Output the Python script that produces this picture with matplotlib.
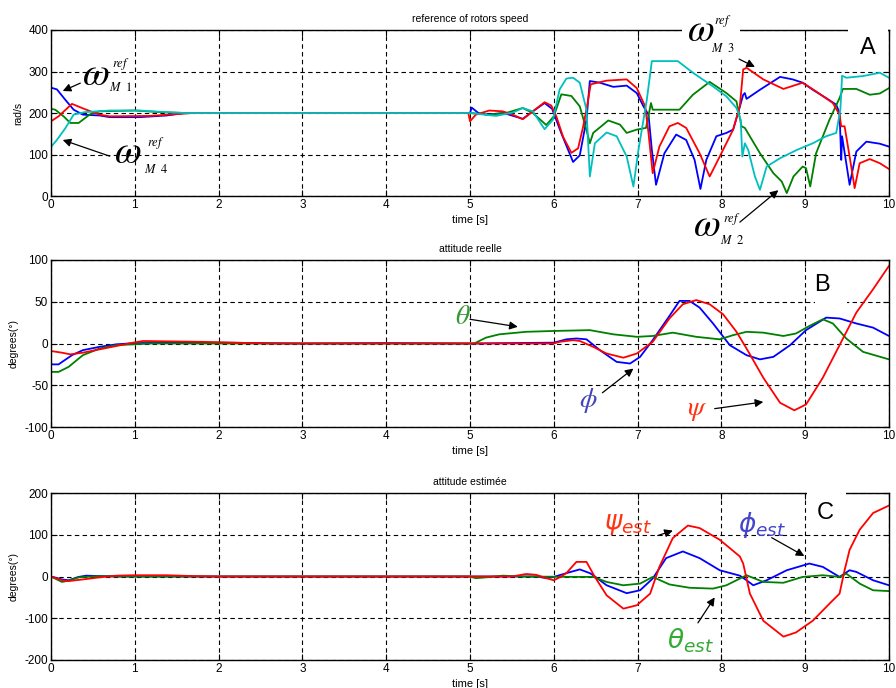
import matplotlib
matplotlib.use("Agg")
import matplotlib.pyplot as plt
from matplotlib.patches import Rectangle

plt.rcParams['font.family'] = ['Liberation Sans', 'DejaVu Sans']
plt.rcParams['axes.unicode_minus'] = False

# ---------------- data (time [s], value) ----------------
m1_ref = [(0, 261), (0.07, 257), (0.17, 232), (0.27, 208), (0.38, 196), (0.58, 194), (0.7, 190),
          (1.06, 190), (1.38, 194), (1.6, 200), (5.0, 200), (5.02, 213), (5.1, 200), (5.2, 196),
          (5.4, 200), (5.63, 186), (5.75, 204), (5.89, 224), (5.98, 210), (6.09, 151), (6.23, 82),
          (6.31, 98), (6.39, 184), (6.43, 277), (6.55, 273), (6.71, 263), (6.87, 266), (6.99, 248),
          (7.07, 216), (7.13, 196), (7.17, 111), (7.22, 27), (7.32, 103), (7.46, 148), (7.58, 135),
          (7.68, 87), (7.75, 17), (7.82, 87), (7.94, 144), (8.06, 152), (8.14, 160), (8.21, 208),
          (8.26, 244), (8.28, 248), (8.30, 234), (8.46, 256), (8.70, 287), (8.85, 281), (8.97, 273),
          (9.09, 256), (9.25, 236), (9.37, 220), (9.41, 200), (9.43, 87), (9.44, 144), (9.49, 79),
          (9.53, 27), (9.61, 107), (9.73, 131), (9.89, 126), (10.0, 119)]
m2_ref = [(0, 210), (0.05, 208), (0.15, 192), (0.23, 176), (0.33, 176), (0.46, 196), (0.58, 204),
          (1.0, 206), (1.3, 202), (1.6, 200), (5.0, 200), (5.23, 196), (5.43, 200), (5.63, 212),
          (5.75, 200), (5.91, 171), (6.0, 192), (6.09, 245), (6.21, 241), (6.31, 216), (6.39, 159),
          (6.43, 127), (6.47, 152), (6.65, 182), (6.79, 172), (6.87, 152), (6.99, 160), (7.1, 164),
          (7.16, 224), (7.18, 208), (7.5, 208), (7.66, 244), (7.86, 275), (8.06, 248), (8.18, 228),
          (8.24, 168), (8.28, 164), (8.46, 103), (8.62, 55), (8.72, 35), (8.78, 7), (8.86, 47),
          (8.97, 71), (9.01, 67), (9.06, 23), (9.13, 103), (9.29, 184), (9.41, 236), (9.45, 258),
          (9.61, 258), (9.77, 244), (9.89, 247), (10.0, 260)]
m3_ref = [(0, 180), (0.09, 192), (0.25, 222), (0.42, 208), (0.58, 196), (0.7, 192), (1.18, 193),
          (1.54, 198), (1.7, 200), (4.98, 200), (5.0, 180), (5.07, 196), (5.23, 206), (5.39, 204),
          (5.51, 196), (5.63, 185), (5.75, 204), (5.89, 226), (5.97, 218), (6.03, 192), (6.11, 143),
          (6.21, 104), (6.29, 115), (6.35, 167), (6.40, 220), (6.44, 269), (6.63, 278), (6.87, 281),
          (6.99, 260), (7.09, 216), (7.13, 152), (7.18, 55), (7.26, 119), (7.38, 168), (7.48, 176),
          (7.58, 164), (7.74, 103), (7.86, 47), (7.98, 95), (8.14, 160), (8.22, 216), (8.26, 305),
          (8.30, 309), (8.50, 281), (8.74, 258), (8.97, 273), (9.13, 252), (9.33, 224), (9.41, 196),
          (9.43, 168), (9.47, 168), (9.53, 95), (9.59, 19), (9.65, 79), (9.77, 89), (9.89, 79),
          (10.0, 65)]
m4_ref = [(0, 0), (0.002, 119), (0.07, 135), (0.17, 163), (0.27, 196), (0.4, 202), (0.7, 206),
          (1.06, 206), (1.38, 202), (1.6, 200), (5.0, 200), (5.31, 193), (5.51, 201), (5.63, 212),
          (5.75, 204), (5.89, 161), (5.99, 184), (6.07, 257), (6.15, 283), (6.23, 285), (6.31, 273),
          (6.39, 208), (6.43, 47), (6.49, 127), (6.63, 153), (6.75, 144), (6.87, 95), (6.95, 23),
          (7.01, 111), (7.11, 232), (7.17, 325), (7.48, 325), (7.66, 297), (7.9, 264), (8.06, 240),
          (8.18, 212), (8.23, 184), (8.25, 95), (8.28, 127), (8.32, 111), (8.40, 47), (8.46, 15),
          (8.54, 71), (8.70, 91), (8.9, 111), (9.09, 127), (9.25, 144), (9.37, 152), (9.42, 208),
          (9.44, 290), (9.49, 285), (9.69, 289), (9.89, 297), (10.0, 285)]

phi_real = [(0, -25), (0.09, -25), (0.25, -14), (0.38, -8), (0.58, -4), (0.78, -1), (1.0, 0.5),
            (2.0, 1), (3.0, 0), (4.0, 0.5), (5.0, 0), (6.0, 1), (6.15, 5), (6.27, 6), (6.39, 5),
            (6.55, -8), (6.75, -22), (6.91, -24), (7.03, -16), (7.18, 4), (7.38, 33), (7.5, 51),
            (7.62, 51), (7.74, 43), (7.9, 24), (8.1, -2), (8.3, -14), (8.46, -19), (8.62, -16),
            (8.82, -2), (9.01, 16), (9.25, 31), (9.41, 30), (9.61, 24), (9.81, 19), (10.0, 9)]
theta_real = [(0, -34), (0.09, -34), (0.21, -28), (0.38, -14), (0.58, -6), (0.78, -2), (0.98, -1),
              (1.2, 0), (5.05, 0), (5.19, 7), (5.35, 11), (5.67, 14), (5.99, 15), (6.43, 16),
              (6.71, 11), (6.99, 8), (7.18, 9), (7.42, 13), (7.7, 8), (7.98, 5), (8.14, 10),
              (8.3, 14), (8.5, 13), (8.74, 9), (8.89, 12), (9.05, 21), (9.21, 29), (9.33, 24),
              (9.49, 6), (9.69, -10), (10.0, -19)]
psi_real = [(0, -9), (0.13, -11), (0.23, -13), (0.38, -11), (0.58, -7), (0.78, -3), (0.98, 1),
            (1.1, 3), (1.8, 2), (2.6, 0), (6.0, 0), (6.07, 2), (6.23, 4), (6.31, 3), (6.47, -4),
            (6.63, -12), (6.83, -17), (6.99, -12), (7.18, 2), (7.38, 30), (7.54, 47), (7.7, 52),
            (7.86, 47), (8.02, 35), (8.18, 14), (8.3, -6), (8.5, -41), (8.7, -71), (8.87, -80),
            (9.01, -73), (9.21, -41), (9.41, -2), (9.61, 37), (9.81, 65), (10.0, 93)]

phi_est = [(0, 0), (0.13, -7), (0.21, -9), (0.33, -1), (0.42, 2), (0.58, 1), (0.8, 0), (5.8, 0),
           (5.91, -4), (6.0, -1), (6.15, 8), (6.31, 17), (6.43, 8), (6.47, 3), (6.63, -21),
           (6.87, -40), (7.03, -33), (7.18, -5), (7.34, 44), (7.54, 60), (7.74, 44), (7.98, 15),
           (8.22, 2), (8.3, -9), (8.38, -21), (8.54, -9), (8.78, 15), (9.05, 31), (9.21, 23),
           (9.41, -1), (9.53, 15), (9.61, 11), (9.81, -9), (10.0, -21)]
theta_est = [(0, 0), (0.13, -13), (0.21, -10), (0.33, -2), (0.58, 1), (0.8, 0), (5.0, 0),
             (5.07, -4), (5.19, -2), (5.39, 2), (5.6, 0), (6.3, -1), (6.47, -1), (6.63, -13),
             (6.83, -21), (7.03, -17), (7.18, -1), (7.38, -19), (7.62, -27), (7.9, -29),
             (8.06, -21), (8.3, 3), (8.5, -13), (8.74, -15), (8.97, -1), (9.21, 3), (9.41, -1),
             (9.49, 7), (9.65, -17), (9.81, -33), (10.0, -35)]
psi_est = [(0, 0), (0.13, -9), (0.21, -11), (0.38, -7), (0.58, -2), (0.78, 2), (0.98, 3),
           (1.38, 3), (1.7, 1), (2.0, 0), (5.5, 0), (5.67, 6), (5.79, 4), (5.91, -4), (6.0, -9),
           (6.07, -2), (6.15, 8), (6.27, 35), (6.39, 35), (6.49, -1), (6.63, -45), (6.83, -77),
           (6.99, -69), (7.15, -41), (7.26, 23), (7.42, 92), (7.6, 122), (7.74, 116), (7.98, 88),
           (8.22, 48), (8.26, 31), (8.34, -41), (8.5, -106), (8.74, -144), (8.89, -134),
           (9.09, -106), (9.29, -65), (9.41, -41), (9.47, 15), (9.53, 64), (9.65, 112),
           (9.81, 152), (10.0, 170)]

x_ticks = [0, 1, 2, 3, 4, 5, 6, 7, 8, 9, 10]
y_ticks_a = [0, 100, 200, 300, 400]
y_ticks_b = [-100, -50, 0, 50, 100]
y_ticks_c = [-200, -100, 0, 100, 200]
titles = ["reference of rotors speed", "attitude reelle", "attitude estimée"]
ylabels = ["rad/s", "degrees(°)", "degrees(°)"]

BLUE, GREEN, RED, CYAN = '#0000ff', '#008000', '#ff0000', '#00bfbf'

fig = plt.figure(figsize=(8.96, 6.88), dpi=100)
W, H = 896.0, 688.0
def ax_rect(top_px, bot_px, left_px=51, right_px=889):
    return [left_px / W, 1 - bot_px / H, (right_px - left_px) / W, (bot_px - top_px) / H]

axA = fig.add_axes(ax_rect(30, 196))
axB = fig.add_axes(ax_rect(260, 427))
axC = fig.add_axes(ax_rect(493, 660))

def mask(ax, x0, y0, x1, y1):
    """white patch given in figure pixels (origin top-left)"""
    ax.add_patch(Rectangle((x0 / W, 1 - y1 / H), (x1 - x0) / W, (y1 - y0) / H,
                           transform=fig.transFigure, facecolor='white', edgecolor='none',
                           clip_on=False, zorder=3))

def draw(ax, series, color):
    t = [p[0] for p in series]
    v = [p[1] for p in series]
    ax.plot(t, v, color=color, lw=1.3, solid_joinstyle='round')

def style(ax, yticks, title, ylabel):
    ax.set_xlim(0, 10)
    ax.set_ylim(yticks[0], yticks[-1])
    ax.set_xticks(x_ticks)
    ax.set_yticks(yticks)
    ax.grid(True, color='black', linestyle=(0, (4, 3)), linewidth=0.8)
    ax.tick_params(direction='in', length=4, labelsize=8.5, top=True, right=True,
                   colors='black', pad=2)
    for s in ax.spines.values():
        s.set_linewidth(1.0)
    ax.set_title(title, fontsize=7.5, pad=6)
    ax.set_xlabel("time [s]", fontsize=8, labelpad=3)
    ax.set_ylabel(ylabel, fontsize=7.5, labelpad=4)

# ---- panel A ----
draw(axA, m1_ref, BLUE)
draw(axA, m2_ref, GREEN)
draw(axA, m3_ref, RED)
draw(axA, m4_ref, CYAN)
style(axA, y_ticks_a, titles[0], ylabels[0])

arrow = dict(arrowstyle='-|>', color='black', lw=0.9, mutation_scale=12, shrinkA=0, shrinkB=0)

def omega_label(ax, xw, yw, xs, ys_sup, ys_sub, idx):
    ax.text(xw, yw, r'$\omega$', fontsize=28, math_fontfamily='stix', ha='center', va='center',
            clip_on=False, zorder=6)
    ax.text(xs, ys_sup, r'$ref$', fontsize=9, math_fontfamily='stix', ha='left', va='center',
            clip_on=False, zorder=6)
    ax.text(xs - 0.04, ys_sub, r'$M\ \ %s$' % idx, fontsize=9, math_fontfamily='stix',
            ha='left', va='center', clip_on=False, zorder=6)

omega_label(axA, 0.53, 292, 0.73, 318, 262, '1')
axA.annotate('', xy=(0.14, 253), xytext=(0.35, 272), arrowprops=arrow)
omega_label(axA, 0.91, 104, 1.15, 128, 65, '4')
axA.annotate('', xy=(0.14, 135), xytext=(0.70, 96), arrowprops=arrow, zorder=5)
mask(axA, 682, 18, 740, 59)
omega_label(axA, 7.75, 397, 7.91, 421, 356, '3')
axA.annotate('', xy=(8.40, 311), xytext=(8.21, 330), arrowprops=arrow, zorder=5)
omega_label(axA, 7.82, -72, 8.02, -55, -108, '2')
axA.annotate('', xy=(8.68, 14), xytext=(8.22, -63), arrowprops=dict(arrow), annotation_clip=False)
mask(axA, 848, 20, 887.5, 66)
axA.text(9.75, 357, 'A', fontsize=17, ha='center', va='center', clip_on=False, zorder=6)

# ---- panel B ----
draw(axB, phi_real, BLUE)
draw(axB, theta_real, GREEN)
draw(axB, psi_real, RED)
style(axB, y_ticks_b, titles[1], ylabels[1])
mask(axB, 815, 268, 847, 310)
axB.text(9.20, 70, 'B', fontsize=17, ha='center', va='center', zorder=6)
axB.text(4.92, 32, r'$\theta$', fontsize=20, math_fontfamily='stix', color='#339933',
         ha='center', va='center')
axB.annotate('', xy=(5.57, 20), xytext=(5.0, 29), arrowprops=arrow)
axB.text(6.41, -68, r'$\phi$', fontsize=20, math_fontfamily='stix', color='#4444bb',
         ha='center', va='center')
axB.annotate('', xy=(6.95, -30), xytext=(6.58, -59), arrowprops=arrow)
axB.text(7.71, -80, r'$\psi$', fontsize=20, math_fontfamily='stix', color='#ff3311',
         ha='center', va='center')
axB.annotate('', xy=(8.50, -70), xytext=(7.92, -78), arrowprops=arrow)

# ---- panel C ----
draw(axC, phi_est, BLUE)
draw(axC, theta_est, GREEN)
draw(axC, psi_est, RED)
style(axC, y_ticks_c, titles[2], ylabels[2])
mask(axC, 806.5, 486, 846, 528)
axC.text(9.24, 153, 'C', fontsize=17, ha='center', va='center', clip_on=False, zorder=6)
axC.text(6.89, 124, r'$\psi_{est}$', fontsize=19, math_fontfamily='dejavusans', color='#ff3311',
         ha='center', va='center')
axC.annotate('', xy=(7.42, 110), xytext=(7.24, 98), arrowprops=arrow)
axC.text(8.48, 124, r'$\phi_{est}$', fontsize=19, math_fontfamily='dejavusans', color='#4444cc',
         ha='center', va='center')
axC.annotate('', xy=(8.99, 49), xytext=(8.60, 93), arrowprops=arrow)
axC.text(7.63, -154, r'$\theta_{est}$', fontsize=19, math_fontfamily='dejavusans', color='#33aa33',
         ha='center', va='center')
axC.annotate('', xy=(7.92, -50), xytext=(7.72, -111), arrowprops=arrow)

fig.savefig('out.png', dpi=100, facecolor='white')
